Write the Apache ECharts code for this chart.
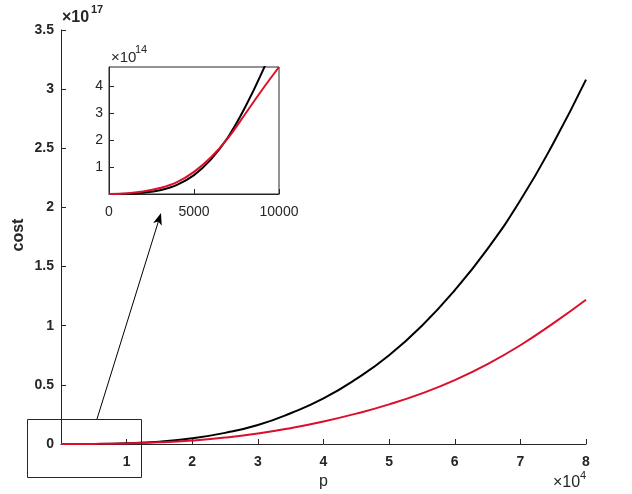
<!DOCTYPE html>
<html><head><meta charset="utf-8">
<script src="https://cdn.jsdelivr.net/npm/echarts@6/dist/echarts.min.js"></script>
<style>html,body{margin:0;padding:0;background:#fff}#c{width:632px;height:494px}</style>
</head><body><div id="c"></div>
<script>
// Main chart: p in units of 1e4, cost in units of 1e17
var pMain = [0, 0.5, 1, 1.5, 2, 2.5, 3, 3.5, 4, 4.5, 5, 5.5, 6, 6.5, 7, 7.5, 8];
var costBlack = [0, 0.0008, 0.006, 0.02, 0.048, 0.094, 0.16, 0.26, 0.385, 0.55, 0.75, 1.0, 1.30, 1.65, 2.06, 2.54, 3.08];
var costRed = [0, 0.0009, 0.0047, 0.014, 0.03, 0.054, 0.088, 0.134, 0.19, 0.257, 0.335, 0.428, 0.54, 0.675, 0.835, 1.02, 1.22];
// Inset: p raw, cost in units of 1e14
var pInset = [0, 1000, 2000, 3000, 4000, 5000, 6000, 7000, 8000, 9000, 10000];
var insetBlack = [0, 0.006, 0.045, 0.14, 0.34, 0.70, 1.28, 2.1, 3.2, 4.5, 6.0];
var insetRed = [0, 0.02, 0.09, 0.22, 0.44, 0.82, 1.36, 2.07, 2.95, 3.85, 4.7];
var mainXTicks = [0, 1, 2, 3, 4, 5, 6, 7, 8];
var mainYTicks = [0, 0.5, 1, 1.5, 2, 2.5, 3, 3.5];

function pairs(xs, ys) { return xs.map(function (x, i) { return [x, ys[i]]; }); }

var FONT = '"Liberation Sans", Arial, sans-serif';
var AX = '#262626';
var RED = '#dc0f2a';

var chart = echarts.init(document.getElementById('c'), null, {renderer: 'canvas'});

function axisCommon(extra) {
  var o = {
    type: 'value',
    axisLine: {show: true, lineStyle: {color: AX, width: 1}},
    axisTick: {show: true, inside: true, length: 5, lineStyle: {color: AX}},
    splitLine: {show: false},
    axisLabel: {color: AX, fontFamily: FONT, fontSize: 14}
  };
  for (var k in extra) o[k] = extra[k];
  return o;
}

var option = {
  animation: false,
  backgroundColor: '#fff',
  grid: [
    {left: 61, right: 46, top: 30, bottom: 50, show: false},
    {left: 109, top: 67, width: 170, height: 127, show: true, backgroundColor: '#fff', borderColor: AX, borderWidth: 1, z: 5}
  ],
  xAxis: [
    axisCommon({gridIndex: 0, min: mainXTicks[0], max: mainXTicks[mainXTicks.length - 1], interval: 1,
      axisLabel: {color: AX, fontFamily: FONT, fontSize: 14, fontWeight: 'bold', margin: 11,
        formatter: function (v) { return v === 0 ? '' : String(v); }}}),
    axisCommon({gridIndex: 1, min: 0, max: 10000, interval: 5000, z: 6,
      axisLabel: {color: AX, fontFamily: FONT, fontSize: 14, margin: 11,
        formatter: function (v) { return String(v); }}})
  ],
  yAxis: [
    axisCommon({gridIndex: 0, min: mainYTicks[0], max: mainYTicks[mainYTicks.length - 1], interval: 0.5,
      axisLabel: {color: AX, fontFamily: FONT, fontSize: 14, fontWeight: 'bold', margin: 7}}),
    axisCommon({gridIndex: 1, min: 0, max: 4.7, interval: 1, z: 6,
      axisLabel: {color: AX, fontFamily: FONT, fontSize: 14, margin: 6, showMinLabel: false, showMaxLabel: false,
        formatter: function (v) { return (v === 0 || v > 4.5) ? '' : String(v); }}})
  ],
  series: [
    {type: 'line', xAxisIndex: 0, yAxisIndex: 0, data: pairs(pMain, costBlack), smooth: 0.5, showSymbol: false,
      lineStyle: {color: '#000', width: 2}, z: 2},
    {type: 'line', xAxisIndex: 0, yAxisIndex: 0, data: pairs(pMain, costRed), smooth: 0.5, showSymbol: false,
      lineStyle: {color: RED, width: 2}, z: 2},
    {type: 'line', xAxisIndex: 1, yAxisIndex: 1, data: pairs(pInset, insetBlack), smooth: 0.4, showSymbol: false, clip: true,
      lineStyle: {color: '#000', width: 2}, z: 7},
    {type: 'line', xAxisIndex: 1, yAxisIndex: 1, data: pairs(pInset, insetRed), smooth: 0.4, showSymbol: false, clip: true,
      lineStyle: {color: RED, width: 2}, z: 7}
  ]
};
chart.setOption(option);

// Annotations: box around the small-p region, arrow to inset, exponent labels, axis names
var a0 = [97, 419], a1 = [161, 213];
var dx = a1[0] - a0[0], dy = a1[1] - a0[1], len = Math.sqrt(dx * dx + dy * dy);
var ux = dx / len, uy = dy / len, hl = 12, hw = 4.5;
var bx = a1[0] - ux * hl, by = a1[1] - uy * hl;
var head = [[a1[0], a1[1]], [bx - uy * hw, by + ux * hw], [a1[0] - ux * hl * 0.75, a1[1] - uy * hl * 0.75], [bx + uy * hw, by - ux * hw]];

function txt(x, y, s, size, weight, extra) {
  var st = {text: s, fontSize: size, fontWeight: weight || 'normal', fontFamily: FONT, fill: AX, align: 'left', verticalAlign: 'top'};
  var o = {type: 'text', x: x, y: y, style: st, z: 20};
  if (extra) for (var k in extra) o[k] = extra[k];
  return o;
}

var cost = txt(19, 235, 'cost', 16, 'bold', {rotation: Math.PI / 2});
cost.style.align = 'center';
cost.style.verticalAlign = 'middle';

chart.setOption({
  graphic: [
    {type: 'rect', shape: {x: 27.5, y: 419.5, width: 114, height: 58}, style: {fill: 'none', stroke: AX, lineWidth: 1}, z: 20},
    {type: 'line', shape: {x1: a0[0], y1: a0[1], x2: a1[0] - ux * 6, y2: a1[1] - uy * 6}, style: {stroke: '#000', lineWidth: 1}, z: 20},
    {type: 'polygon', shape: {points: head}, style: {fill: '#000'}, z: 20},
    txt(62, 10, '×10', 16, 'bold'),
    txt(91, 4, '17', 11, 'bold'),
    txt(111, 50, '×10', 15, 'normal'),
    txt(135, 44, '14', 11, 'normal'),
    txt(553, 475, '×10', 16, 'normal'),
    txt(580, 470, '4', 11, 'normal'),
    txt(319, 474, 'p', 16, 'normal'),
    cost
  ]
});
</script></body></html>
